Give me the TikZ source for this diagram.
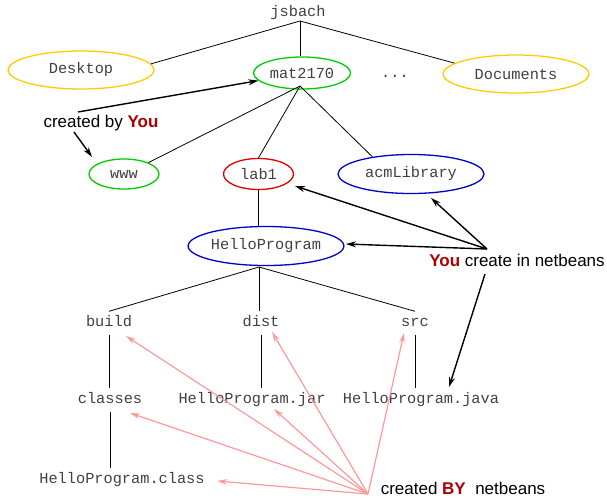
\documentclass[tikz,border=0pt]{standalone}
\usepackage{fontspec}
\setmainfont{Liberation Sans}
\setmonofont{Liberation Mono}
\usetikzlibrary{shapes.geometric,arrows.meta,calc}
\definecolor{gold}{HTML}{FFCC00}
\definecolor{dgreen}{HTML}{00CC00}
\definecolor{dred}{HTML}{DD0000}
\definecolor{dblue}{HTML}{0000CC}
\definecolor{youred}{HTML}{AA0000}
\definecolor{pinkarr}{HTML}{FF9999}
\definecolor{txtgray}{HTML}{404040}
\newcommand{\monofnt}{\fontsize{15.3}{18}\selectfont\ttfamily}
\newcommand{\sansfnt}{\fontsize{17}{20}\selectfont}
\begin{document}
\begin{tikzpicture}[x=1pt,y=-1pt,
  dirnode/.style={ellipse, draw, line width=1.3pt, inner sep=0pt, font=\monofnt, text=txtgray},
  plainnode/.style={font=\monofnt, text=txtgray, text height=10pt, text depth=3pt, inner ysep=5pt, inner xsep=2pt},
  lbl/.style={font=\sansfnt, inner sep=0pt},
  tree/.style={draw=black, line width=0.8pt},
  arr/.style={-{Stealth[length=10pt,width=6pt]}, line width=1.4pt},
  parr/.style={-{Stealth[length=10pt,width=5.5pt]}, draw=pinkarr, line width=1.2pt}]
\useasboundingbox (0,0) rectangle (607,498);
% nodes
\node[plainnode] (jsbach) at (298,13) {jsbach};
\node[dirnode, draw=gold, minimum width=146, minimum height=38] (Desktop) at (81,70) {Desktop};
\node[dirnode, draw=dgreen, minimum width=97, minimum height=32] (mat2170) at (302,73) {mat2170};
\node[plainnode] (dots) at (395,73.5) {...};
\node[dirnode, draw=gold, minimum width=146, minimum height=38] (Documents) at (516,74) {Documents};
\node[dirnode, draw=dgreen, minimum width=70, minimum height=30] (www) at (124,174) {www};
\node[dirnode, draw=dred, minimum width=70, minimum height=31] (lab1) at (258.5,174) {lab1};
\node[dirnode, draw=dblue, minimum width=146, minimum height=39] (acmLibrary) at (411,174) {acmLibrary};
\node[dirnode, draw=dblue, minimum width=146, minimum height=39] (Hello) at (266,246) {HelloProgram};
\node[plainnode] (build) at (109,323) {build};
\node[plainnode] (dist) at (261,323) {dist};
\node[plainnode] (src) at (415,323) {src};
\node[plainnode] (classes) at (110,400) {classes};
\node[plainnode] (jar) at (252,400) {HelloProgram.jar};
\node[plainnode] (java) at (421,400) {HelloProgram.java};
\node[plainnode] (class) at (122,480) {HelloProgram.class};
\node[lbl] (cby) at (101,123) {created by \textcolor{youred}{\textbf{You}}};
\node[lbl] (ycreate) at (517,260) {\textcolor{youred}{\textbf{You}} create in netbeans};
\node[lbl] (cBY) at (463,488) {created \textcolor{youred}{\textbf{BY}}\ \ netbeans};
% coordinates
\coordinate (jb) at (300,21);
\coordinate (mb) at (300,86);
\coordinate (hb) at (259,267);
\coordinate (cbA) at (78,112);
\coordinate (cbB) at (74,132);
\coordinate (hub) at (487,249);
\coordinate (hub2) at (485,274);
\coordinate (nb) at (368,494);
% tree
\draw[tree] (jb) -- (Desktop.5);
\draw[tree] (jb) -- (jb |- mat2170.north);
\draw[tree] (jb) -- (Documents.170);
\draw[tree] (mb) -- (www.25);
\draw[tree] (mb) -- (lab1.north);
\draw[tree] (mb) -- (acmLibrary.156);
\draw[tree] (lab1.south) -- (lab1.south |- Hello.north);
\draw[tree] (hb) -- (build.north);
\draw[tree] (hb) -- (hb |- dist.north);
\draw[tree] (hb) -- (src.north);
\draw[tree] (build.south) -- (build.south |- classes.north);
\draw[tree] (dist.south) -- (dist.south |- jar.north);
\draw[tree] (src.south) -- (src.south |- java.north);
\draw[tree] (classes.south) -- (classes.south |- class.north);
% black arrows
\draw[arr] (cbA) -- (mat2170);
\draw[arr] (cbB) -- ($(www)+(-32,-17)$);
\draw[arr] (hub) -- ($(Hello)+(80,-2)$);
\draw[arr] (hub) -- ($(lab1)+(36.5,12)$);
\draw[arr] (hub) -- ($(acmLibrary)+(20,24)$);
\draw[arr] (hub2) -- ($(java)+(28,-13)$);
% pink arrows
\draw[parr] (nb) -- ($(build)+(17,13)$);
\draw[parr] (nb) -- ($(dist)+(11,9)$);
\draw[parr] (nb) -- ($(src)+(-11,10)$);
\draw[parr] (nb) -- ($(classes)+(20,13)$);
\draw[parr] (nb) -- ($(jar)+(22,9)$);
\draw[parr] (nb) -- ($(class)+(95,1)$);
\end{tikzpicture}
\end{document}
